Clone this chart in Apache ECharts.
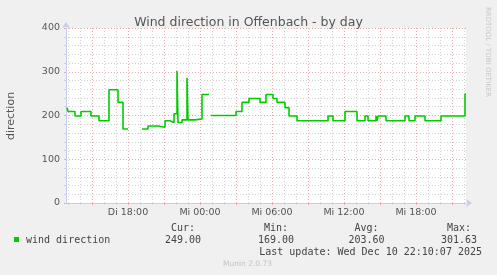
<!DOCTYPE html>
<html><head><meta charset="utf-8">
<script src="https://cdn.jsdelivr.net/npm/echarts@6/dist/echarts.min.js"></script>
<style>html,body{margin:0;padding:0;background:#f0f0f0}#c{width:497px;height:275px}</style>
</head><body><div id="c"></div>
<script>
// ---- data ----
const chartTitle = 'Wind direction in Offenbach - by day';
const yAxisName = 'direction';
const seriesName = 'wind direction';
const times = [
  'Di 12:55','Di 13:00','Di 13:35','Di 14:05','Di 14:55','Di 15:35','Di 16:25','Di 17:10','Di 17:35','Di 17:55','Di 18:00',
  'Di 19:10','Di 19:40','Di 20:30','Di 21:05','Di 21:30','Di 21:50','Di 22:05','Di 22:10','Di 22:30','Di 22:55','Di 23:00','Di 23:35',
  'Mi 00:10','Mi 00:40','Mi 00:45',
  'Mi 00:55','Mi 03:00','Mi 03:30','Mi 04:05','Mi 05:00','Mi 05:30','Mi 06:05','Mi 06:25','Mi 07:05','Mi 07:25','Mi 08:05',
  'Mi 10:40','Mi 11:05','Mi 12:05','Mi 13:05','Mi 13:45','Mi 14:00','Mi 14:40','Mi 14:45','Mi 14:50','Mi 15:30','Mi 17:05',
  'Mi 17:25','Mi 17:55','Mi 18:45','Mi 20:05','Mi 22:05','Mi 22:10'
];
const values = [
  218,209,199,209,199,188,259,230,169,169,null,
  169,176,173,188,184,204,301.63,184,190,286,190,192,
  248,248,null,
  200,209,230,239,230,248,239,230,218,199,188,
  199,188,209,188,199,188,199,188,199,188,199,
  188,199,188,199,249,249
];
const xStart = 'Di 12:50', xEnd = 'Mi 22:10';
const yTicks = [0,100,200,300,400];
const xTickTimes = ['Di 18:00','Mi 00:00','Mi 06:00','Mi 12:00','Mi 18:00'];
const xTickLabels = ['Di 18:00','Mi 00:00','Mi 06:00','Mi 12:00','Mi 18:00'];
const legendHeaders = ['Cur:','Min:','Avg:','Max:'];
const legendValues = ['249.00','169.00','203.60','301.63'];
const lastUpdate = 'Last update: Wed Dec 10 22:10:07 2025';
const footer = 'Munin 2.0.73';
const sideText = 'RRDTOOL / TOBI OETIKER';

// ---- helpers ----
function toH(s){const p=s.split(' ');const hm=p[1].split(':').map(Number);return (p[0]==='Mi'?24:0)+hm[0]+hm[1]/60;}
const xMin = toH(xStart), xMax = toH(xEnd);
const majorX = [], minorX = [];
for (let h = Math.ceil(xMin); h <= xMax; h++) { (h % 3 === 0 ? majorX : minorX).push(h); }
const labelHours = xTickTimes.map(toH);
const data = times.map((t,i)=>[toH(t), values[i]]);

const MONO = 'DejaVu Sans Mono', SANS = 'DejaVu Sans';
const axisCol = '#c6cbef', majCol = '#e9a9a9', minCol = '#d2d2d2';

const chart = echarts.init(document.getElementById('c'), null, {renderer:'canvas'});
const colX = [183, 276, 366.5, 459];
const g = [];
legendHeaders.forEach((h,i)=>g.push({type:'text',left:null,x:colX[i],y:228,style:{text:h,font:'10px '+MONO,fill:'#444',align:'center',verticalAlign:'middle'}}));
legendValues.forEach((v,i)=>g.push({type:'text',x:colX[i],y:240,style:{text:v,font:'10px '+MONO,fill:'#444',align:'center',verticalAlign:'middle'}}));
g.push({type:'rect',shape:{x:14,y:237,width:5,height:5},style:{fill:'#00cc00'}});
g.push({type:'text',x:26,y:240,style:{text:seriesName,font:'10px '+MONO,fill:'#444',align:'left',verticalAlign:'middle'}});
g.push({type:'text',x:482,y:252,style:{text:lastUpdate,font:'10px '+MONO,fill:'#444',align:'right',verticalAlign:'middle'}});
g.push({type:'text',x:247.5,y:264,style:{text:footer,font:'7.5px '+SANS,fill:'#c4c4c4',align:'center',verticalAlign:'middle'}});
g.push({type:'text',x:11,y:116,rotation:Math.PI/2,style:{text:yAxisName,font:'11px '+SANS,fill:'#555',align:'center',verticalAlign:'middle'}});
g.push({type:'text',x:488,y:52,rotation:-Math.PI/2,style:{text:sideText,font:'7px '+SANS,fill:'#c8c8c8',align:'center',verticalAlign:'middle'}});

chart.setOption({
  backgroundColor:'#f0f0f0',
  animation:false,
  title:{text:chartTitle,left:'center',top:11,textStyle:{fontFamily:SANS,fontSize:12.5,fontWeight:'normal',color:'#555'}},
  grid:{left:66,right:31,top:28,bottom:72,show:true,backgroundColor:'#ffffff',borderWidth:0},
  xAxis:[{
    type:'value',min:xMin,max:xMax,
    axisLine:{show:true,lineStyle:{color:axisCol,width:1},symbol:['none','arrow'],symbolSize:[6,6],symbolOffset:[0,6]},
    axisTick:{show:true,customValues:majorX,length:2,lineStyle:{color:majCol}},
    axisLabel:{customValues:labelHours,margin:5,fontFamily:SANS,fontSize:9.5,color:'#555',
      formatter:v=>{const i=labelHours.findIndex(h=>Math.abs(h-v)<1e-6);return i>=0?xTickLabels[i]:'';}},
    splitLine:{show:true,lineStyle:{color:majCol,type:[1,2],width:1}},
    z:3
  },{
    type:'value',min:xMin,max:xMax,position:'bottom',
    axisLine:{show:false},
    axisTick:{show:true,customValues:minorX,length:2,lineStyle:{color:minCol}},
    axisLabel:{show:false},
    splitLine:{show:true,lineStyle:{color:minCol,type:[1,2],width:1}},
    z:2
  }],
  yAxis:{
    type:'value',min:yTicks[0],max:yTicks[yTicks.length-1],interval:100,
    axisLine:{show:true,lineStyle:{color:axisCol,width:1},symbol:['none','arrow'],symbolSize:[6,6],symbolOffset:[0,6]},
    axisTick:{show:true,length:2,lineStyle:{color:majCol}},
    minorTick:{show:true,splitNumber:5,length:2,lineStyle:{color:minCol}},
    axisLabel:{fontFamily:SANS,fontSize:9.5,color:'#555',margin:6},
    splitLine:{show:true,lineStyle:{color:majCol,type:[1,2],width:1}},
    minorSplitLine:{show:true,lineStyle:{color:minCol,type:[1,2],width:1}}
  },
  graphic:g,
  series:[{
    name:seriesName,type:'line',data:data,step:'end',showSymbol:false,connectNulls:false,
    xAxisIndex:0,
    lineStyle:{color:'#00cc00',width:1.6},itemStyle:{color:'#00cc00'},z:5
  }]
});
</script></body></html>
